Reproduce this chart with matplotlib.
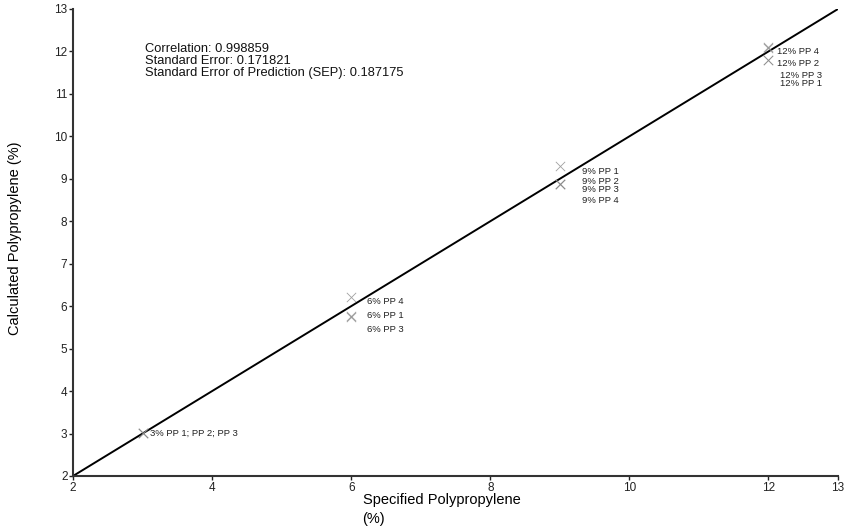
import numpy as np
import matplotlib
matplotlib.use("Agg")
import matplotlib.pyplot as plt

plt.rcParams['font.family'] = ['Liberation Sans', 'DejaVu Sans']

# specified vs calculated polypropylene (%)
spec_3 = [3, 3, 3]
calc_3 = [3.02, 3.02, 3.02]
spec_6 = [6, 6, 6]
calc_6 = [6.21, 5.75, 5.77]
spec_9 = [9, 9, 9, 9]
calc_9 = [9.29, 8.87, 8.88, 8.88]
spec_12 = [12, 12, 12, 12]
calc_12 = [12.08, 11.80, 11.81, 12.10]

fit_x = [2, 13]
fit_y = [2, 13]

xticks = [2, 4, 6, 8, 10, 12, 13]
yticks = list(range(2, 14))

stats = ["Correlation: 0.998859",
         "Standard Error: 0.171821",
         "Standard Error of Prediction (SEP): 0.187175"]

# label text, x, y (data coords)
labels = [
    ("3% PP 1; PP 2; PP 3", 3.11, 3.0),
    ("6% PP 4", 6.23, 6.12),
    ("6% PP 1", 6.23, 5.77),
    ("6% PP 3", 6.23, 5.46),
    ("9% PP 1", 9.32, 9.17),
    ("9% PP 2", 9.32, 8.93),
    ("9% PP 3", 9.32, 8.74),
    ("9% PP 4", 9.32, 8.48),
    ("12% PP 4", 12.13, 12.0),
    ("12% PP 2", 12.13, 11.72),
    ("12% PP 3", 12.16, 11.44),
    ("12% PP 1", 12.16, 11.25),
]

fig = plt.figure(figsize=(8.53, 5.29), dpi=100)
ax = fig.add_axes([0.0856, 0.1002, 0.8968, 0.8828])

ax.plot(fit_x, fit_y, color='black', lw=1.4, zorder=2)

for xs, ys in [(spec_3, calc_3), (spec_6, calc_6), (spec_9, calc_9), (spec_12, calc_12)]:
    ax.scatter(xs, ys, marker='x', s=45, color='#888888', linewidths=0.6,
               alpha=0.8, zorder=3)

for t, x, y in labels:
    ax.text(x, y, t, fontsize=6.8, color='#222222', va='center', ha='left')

ax.text(0.094, 0.928, "\n".join(stats), transform=ax.transAxes, fontsize=9.3,
        va='top', ha='left', linespacing=1.0, color='#111111')

ax.set_xlim(2, 13)
ax.set_ylim(2, 13)
ax.set_xticks(xticks)
ax.set_yticks(yticks)
ax.tick_params(labelsize=8.5, length=3, width=1, colors='#222222', pad=1)
for s in ['top', 'right']:
    ax.spines[s].set_visible(False)
for s in ['left', 'bottom']:
    ax.spines[s].set_linewidth(1.5)
    ax.spines[s].set_color('#333333')

fig.text(0.425, 0.037, "Specified Polypropylene\n(%)", fontsize=10.5, ha='left',
         va='center', linespacing=1.45)
fig.text(0.018, 0.55, "Calculated Polypropylene (%)", fontsize=10.5, rotation=90,
         ha='center', va='center')

fig.savefig("out.png", dpi=100)
